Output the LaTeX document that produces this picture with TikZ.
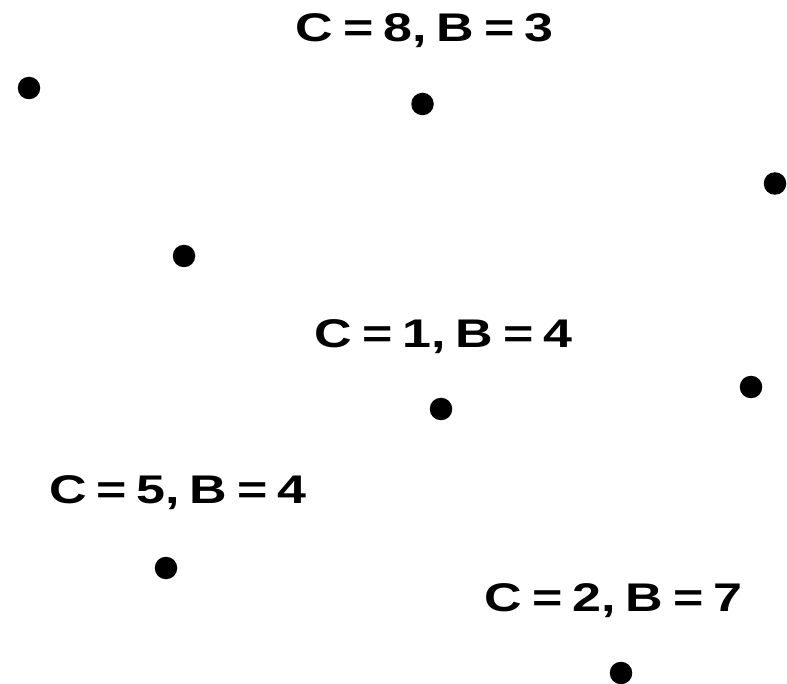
\documentclass[tikz,border=0pt]{standalone}
\usepackage{fontspec}
\setmainfont{Liberation Sans}
\newcommand{\lsp}{\hspace{0.19em}}
\newcommand{\lbltext}[1]{\scalebox{1.3}[1]{#1}}
\begin{document}
\begin{tikzpicture}[x=1pt,y=-1pt,
  dot/.style={circle,fill=black,inner sep=0pt,minimum size=22.5pt},
  lab/.style={anchor=base west,inner sep=0pt,font=\fontsize{40}{44}\selectfont\bfseries}]
\useasboundingbox (0,0) rectangle (787,684);
\node[dot] (d1) at (29,88) {};
\node[dot] (d2) at (422.5,104) {};
\node[dot] (d3) at (775,183.5) {};
\node[dot] (d4) at (184,256) {};
\node[dot] (d5) at (751,387) {};
\node[dot] (d6) at (441,409) {};
\node[dot] (d7) at (166,568) {};
\node[dot] (d8) at (621,673) {};
\node[lab] (l1) at (295.5,41.7) {\lbltext{C\lsp=\lsp8,\lsp B\lsp=\lsp3}};
\node[lab] (l2) at (314.5,347.7) {\lbltext{C\lsp=\lsp1,\lsp B\lsp=\lsp4}};
\node[lab] (l3) at (48.8,503.3) {\lbltext{C\lsp=\lsp5,\lsp B\lsp=\lsp4}};
\node[lab] (l4) at (484.5,611.7) {\lbltext{C\lsp=\lsp2,\lsp B\lsp=\lsp7}};
\end{tikzpicture}
\end{document}
